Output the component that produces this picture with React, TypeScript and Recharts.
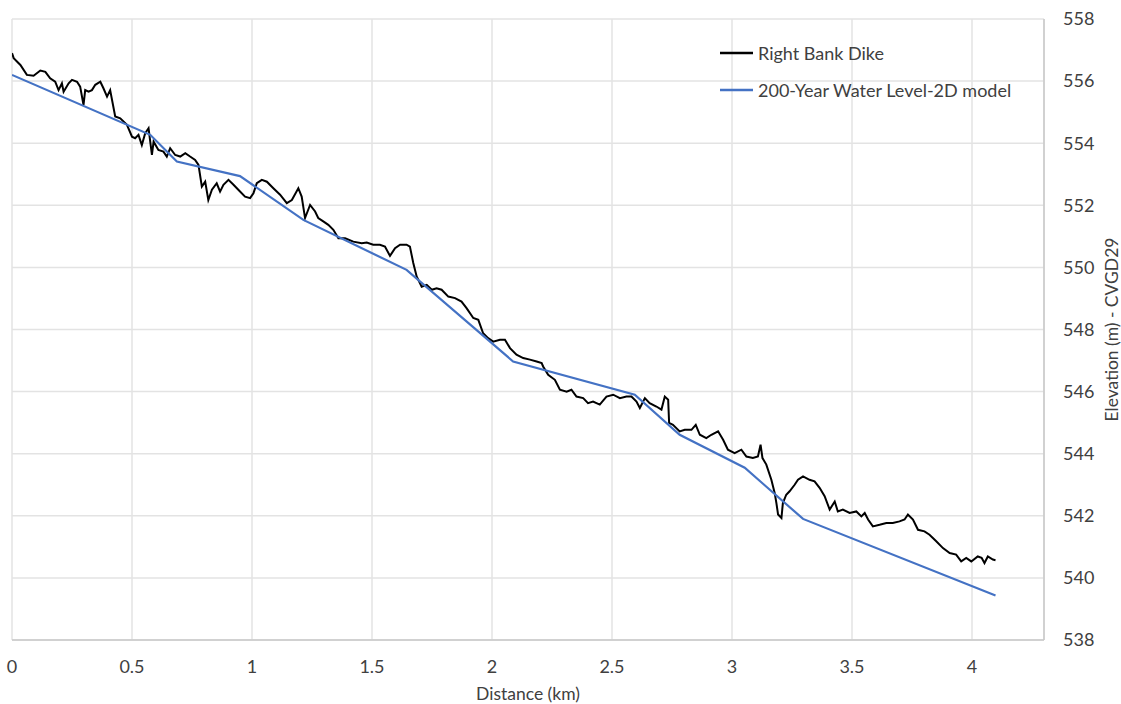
import React from 'react';
import { LineChart, Line, XAxis, YAxis, CartesianGrid, Legend, Label } from 'recharts';

// Right bank dike crest profile (distance in km, elevation in m)
const dikeKm = [
  0, 0.007, 0.035, 0.062, 0.090, 0.118, 0.139, 0.159, 0.180, 0.194,
  0.208, 0.215, 0.236, 0.250, 0.271, 0.284, 0.298, 0.305, 0.319, 0.333,
  0.347, 0.368, 0.381, 0.396, 0.409, 0.430, 0.451, 0.479, 0.500, 0.513,
  0.527, 0.541, 0.555, 0.569, 0.583, 0.590, 0.610, 0.631, 0.645, 0.659,
  0.680, 0.701, 0.722, 0.742, 0.763, 0.777, 0.791, 0.805, 0.818, 0.833,
  0.853, 0.867, 0.881, 0.902, 0.923, 0.943, 0.971, 0.992, 1.006, 1.020,
  1.041, 1.062, 1.089, 1.117, 1.145, 1.166, 1.193, 1.207, 1.221, 1.242,
  1.263, 1.276, 1.297, 1.318, 1.339, 1.360, 1.388, 1.422, 1.457, 1.478,
  1.505, 1.533, 1.554, 1.575, 1.596, 1.617, 1.644, 1.658, 1.672, 1.686,
  1.707, 1.728, 1.749, 1.769, 1.790, 1.818, 1.846, 1.873, 1.894, 1.922,
  1.943, 1.963, 1.984, 2.005, 2.033, 2.054, 2.075, 2.102, 2.130, 2.158,
  2.186, 2.207, 2.213, 2.234, 2.262, 2.283, 2.311, 2.331, 2.352, 2.380,
  2.400, 2.421, 2.449, 2.477, 2.505, 2.533, 2.560, 2.581, 2.602, 2.616,
  2.637, 2.657, 2.685, 2.706, 2.720, 2.734, 2.738, 2.754, 2.782, 2.803,
  2.831, 2.849, 2.866, 2.893, 2.914, 2.942, 2.963, 2.983, 3.011, 3.039,
  3.060, 3.087, 3.108, 3.119, 3.127, 3.143, 3.164, 3.178, 3.185, 3.192,
  3.206, 3.212, 3.226, 3.240, 3.261, 3.275, 3.296, 3.323, 3.344, 3.365,
  3.386, 3.407, 3.428, 3.441, 3.462, 3.490, 3.518, 3.539, 3.553, 3.567,
  3.587, 3.615, 3.643, 3.670, 3.698, 3.719, 3.733, 3.754, 3.775, 3.802,
  3.823, 3.851, 3.879, 3.907, 3.934, 3.955, 3.976, 3.997, 4.024, 4.040,
  4.052, 4.066, 4.087, 4.098,
];

const dikeElev = [
  556.90, 556.74, 556.52, 556.20, 556.17, 556.34, 556.30, 556.09, 555.98, 555.71,
  555.93, 555.66, 555.93, 556.04, 555.98, 555.82, 555.23, 555.71, 555.66, 555.71,
  555.88, 555.98, 555.77, 555.50, 555.71, 554.86, 554.80, 554.59, 554.21, 554.16,
  554.27, 553.94, 554.32, 554.48, 553.62, 554.05, 553.78, 553.73, 553.57, 553.84,
  553.62, 553.57, 553.68, 553.57, 553.46, 553.30, 552.60, 552.76, 552.17, 552.50,
  552.71, 552.44, 552.66, 552.82, 552.66, 552.50, 552.28, 552.23, 552.39, 552.71,
  552.82, 552.76, 552.55, 552.34, 552.07, 552.17, 552.55, 552.28, 551.59, 552.01,
  551.80, 551.59, 551.48, 551.37, 551.21, 550.94, 550.94, 550.83, 550.78, 550.80,
  550.73, 550.73, 550.67, 550.37, 550.62, 550.73, 550.73, 550.67, 550.14, 549.71,
  549.38, 549.44, 549.28, 549.33, 549.28, 549.06, 549.01, 548.90, 548.69, 548.37,
  548.31, 547.88, 547.72, 547.61, 547.67, 547.67, 547.40, 547.19, 547.08, 547.03,
  546.97, 546.92, 546.81, 546.54, 546.38, 546.06, 546.00, 546.06, 545.84, 545.79,
  545.63, 545.68, 545.58, 545.84, 545.90, 545.79, 545.84, 545.84, 545.68, 545.47,
  545.79, 545.63, 545.52, 545.42, 545.84, 545.74, 544.99, 544.93, 544.72, 544.77,
  544.77, 544.93, 544.61, 544.50, 544.61, 544.72, 544.45, 544.13, 544.02, 544.13,
  543.91, 543.86, 543.91, 544.29, 543.86, 543.65, 543.16, 542.73, 542.41, 542.04,
  541.93, 542.41, 542.68, 542.79, 543.00, 543.16, 543.27, 543.16, 543.11, 542.90,
  542.63, 542.20, 542.46, 542.14, 542.20, 542.09, 542.14, 541.98, 542.09, 541.88,
  541.66, 541.71, 541.77, 541.77, 541.82, 541.88, 542.04, 541.88, 541.55, 541.50,
  541.39, 541.18, 540.96, 540.80, 540.75, 540.53, 540.64, 540.53, 540.69, 540.65,
  540.48, 540.69, 540.59, 540.57,
];

// 200-year water surface from the 2D model
const waterKm = [0, 0.576, 0.687, 0.950, 1.214, 1.644, 2.088, 2.595, 2.782, 3.053, 3.296, 4.098];
const waterElev = [556.20, 554.27, 553.41, 552.94, 551.53, 549.92, 546.97, 545.90, 544.61, 543.55, 541.90, 539.43];

const distanceTicks = [0, 0.5, 1, 1.5, 2, 2.5, 3, 3.5, 4];
const elevationTicks = [538, 540, 542, 544, 546, 548, 550, 552, 554, 556, 558];

const seriesNames = ['Right Bank Dike', '200-Year Water Level-2D model'];
const seriesColors = ['#000000', '#4472C4'];

const dikeData = dikeKm.map((km, i) => ({ km, elev: dikeElev[i] }));
const waterData = waterKm.map((km, i) => ({ km, elev: waterElev[i] }));

const FONT = 'Lato, "Noto Sans", sans-serif';
const TEXT = '#404040';

const XTitle = (props: any) => {
  const vb = props.viewBox || {};
  return (
    <text
      x={vb.x + vb.width / 2}
      y={vb.y + 53}
      textAnchor="middle"
      dominantBaseline="central"
      fontFamily={FONT}
      fontSize={17.5}
      fill={TEXT}
    >
      Distance (km)
    </text>
  );
};

const YTitle = (props: any) => {
  const vb = props.viewBox || {};
  const cx = vb.x + vb.width - 10;
  const cy = vb.y + vb.height / 2;
  return (
    <text
      x={cx}
      y={cy}
      transform={`rotate(-90 ${cx} ${cy})`}
      textAnchor="middle"
      dominantBaseline="central"
      fontFamily={FONT}
      fontSize={17.5}
      fill={TEXT}
    >
      Elevation (m) - CVGD29
    </text>
  );
};

const LegendBox = () => (
  <div style={{ fontFamily: FONT, fontSize: 18, color: TEXT }}>
    {seriesNames.map((name, i) => (
      <div key={name} style={{ display: 'flex', alignItems: 'center', height: 37 }}>
        <svg width={33} height={6} style={{ marginRight: 5 }}>
          <line x1={0} y1={3} x2={33} y2={3} stroke={seriesColors[i]} strokeWidth={2.5} />
        </svg>
        <span style={{ whiteSpace: 'nowrap' }}>{name}</span>
      </div>
    ))}
  </div>
);

export default function App() {
  return (
    <div style={{ position: 'absolute', left: 0, top: 0, background: '#fff' }}>
      <LineChart width={1121} height={704} margin={{ top: 19, right: 0, bottom: 0, left: 12 }}>
        <CartesianGrid stroke="#e3e3e3" strokeWidth={1.5} />
        <XAxis
          type="number"
          dataKey="km"
          domain={[0, 4.3]}
          ticks={distanceTicks}
          allowDataOverflow
          height={64}
          tickLine={false}
          tickMargin={14}
          axisLine={{ stroke: '#c8c8c8', strokeWidth: 1.5 }}
          tick={{ fontFamily: FONT, fontSize: 18, fill: TEXT }}
        >
          <Label content={<XTitle />} />
        </XAxis>
        <YAxis
          type="number"
          orientation="right"
          domain={[538, 558]}
          ticks={elevationTicks}
          width={77}
          tickLine={false}
          tickMargin={13}
          axisLine={{ stroke: '#c8c8c8', strokeWidth: 1.5 }}
          tick={{ fontFamily: FONT, fontSize: 18, fill: TEXT, textAnchor: 'start' }}
        >
          <Label content={<YTitle />} />
        </YAxis>
        <Legend
          layout="horizontal"
          verticalAlign="middle"
          align="center"
          content={<LegendBox />}
          wrapperStyle={{ left: 720, top: 34, width: 340 }}
        />
        <Line
          data={dikeData}
          dataKey="elev"
          name={seriesNames[0]}
          type="linear"
          stroke={seriesColors[0]}
          strokeWidth={2}
          dot={false}
          isAnimationActive={false}
        />
        <Line
          data={waterData}
          dataKey="elev"
          name={seriesNames[1]}
          type="linear"
          stroke={seriesColors[1]}
          strokeWidth={2.2}
          dot={false}
          isAnimationActive={false}
        />
      </LineChart>
    </div>
  );
}
